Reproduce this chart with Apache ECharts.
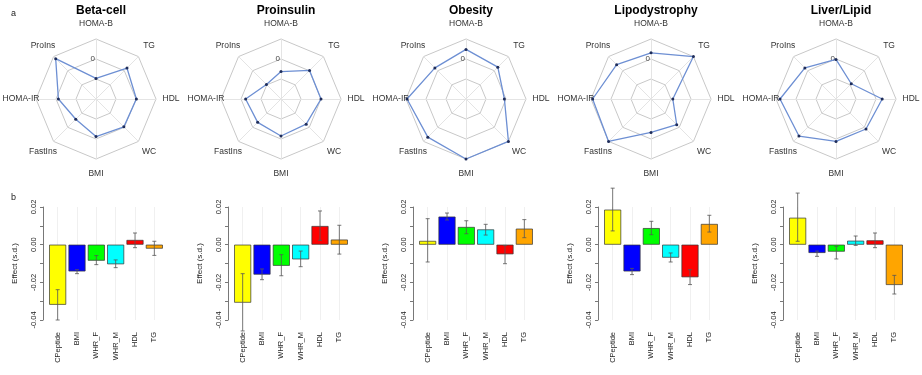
<!DOCTYPE html>
<html>
<head>
<meta charset="utf-8">
<script src="https://cdn.jsdelivr.net/npm/echarts@6/dist/echarts.min.js"></script>
<style>
html, body { margin: 0; padding: 0; background: #fff; }
#main { width: 922px; height: 375px; }
</style>
</head>
<body>
<div id="main"></div>
<script>
const panels = ['Beta-cell', 'Proinsulin', 'Obesity', 'Lipodystrophy', 'Liver/Lipid'];

// radar spokes, counter-clockwise from the top
const radarAxes = ['HOMA-B', 'ProIns', 'HOMA-IR', 'FastIns', 'BMI', 'WC', 'HDL', 'TG'];
const radarBeta = [-0.97, 0.85, -0.12, -0.57, -0.12, -0.03, 0.02, 0.19];
const radarProins = [-0.63, -0.97, -0.23, -0.35, -0.15, -0.22, 0.0, 0.02];
const radarObesity = [0.48, 0.2, 0.95, 0.7, 1.0, 1.0, -0.08, 0.25];
const radarLipo = [0.31, 0.43, 0.92, 1.0, -0.33, -0.18, -0.91, 1.0];
const radarLiver = [-0.02, 0.2, 0.8, 0.62, 0.12, 0.12, 0.31, -0.92];
const radarValues = [radarBeta, radarProins, radarObesity, radarLipo, radarLiver];

// bar panels
const barCats = ['CPeptide', 'BMI', 'WHR_F', 'WHR_M', 'HDL', 'TG'];
const effBeta = [-0.0319, -0.0142, -0.0085, -0.0104, 0.0025, -0.0021];
const loBeta  = [-0.0400, -0.0154, -0.0106, -0.0122, -0.0016, -0.0057];
const hiBeta  = [-0.0239, -0.0133, -0.0058, -0.0081, 0.0062, 0.0018];
const effProins = [-0.0308, -0.0159, -0.0112, -0.0078, 0.0099, 0.0027];
const loProins  = [-0.0458, -0.0186, -0.0165, -0.0117, 0.0023, -0.0050];
const hiProins  = [-0.0154, -0.0129, -0.0053, -0.0034, 0.0179, 0.0103];
const effObesity = [0.0020, 0.0149, 0.0094, 0.0081, -0.0051, 0.0085];
const loObesity  = [-0.0092, 0.0131, 0.0058, 0.0051, -0.0101, 0.0037];
const hiObesity  = [0.0138, 0.0168, 0.0127, 0.0108, -0.0004, 0.0133];
const effLipo = [0.0186, -0.0142, 0.0088, -0.0069, -0.0173, 0.0110];
const loLipo  = [0.0073, -0.0159, 0.0053, -0.0092, -0.0212, 0.0067];
const hiLipo  = [0.0300, -0.0126, 0.0124, -0.0044, -0.0133, 0.0156];
const effLiver = [0.0143, -0.0044, -0.0037, 0.0021, 0.0023, -0.0214];
const loLiver  = [0.0018, -0.0062, -0.0076, -0.0004, -0.0016, -0.0262];
const hiLiver  = [0.0274, -0.0034, -0.0009, 0.0046, 0.0062, -0.0163];
const effects = [effBeta, effProins, effObesity, effLipo, effLiver];
const lows = [loBeta, loProins, loObesity, loLipo, loLiver];
const highs = [hiBeta, hiProins, hiObesity, hiLipo, hiLiver];

const barColors = ['#ffff00', '#0000ff', '#00ff00', '#00ffff', '#ff0000', '#ffa500'];
const FONT = '"Liberation Sans", Arial, sans-serif';

const chart = echarts.init(document.getElementById('main'));

const titles = [], radars = [], grids = [], xAxes = [], yAxes = [], series = [];

panels.forEach((name, i) => {
    const off = 185 * i;
    const cx = off + 96;

    titles.push({
        text: name, left: cx, top: 0, textAlign: 'center',
        textStyle: {fontFamily: FONT, fontSize: 12, fontWeight: 'bold', color: '#000'}
    });

    radars.push({
        center: [cx, 99],
        radius: 60,
        shape: 'polygon',
        splitNumber: 3,
        indicator: radarAxes.map((a, k) => {
            const ind = {name: a, min: -2, max: 1};
            if (k === 0) {
                ind.axisLabel = {
                    show: true, fontSize: 8, color: '#444', fontFamily: FONT, margin: 1,
                    formatter: v => (Math.abs(v) < 1e-9 ? '0' : '')
                };
            }
            return ind;
        }),
        axisName: {color: '#333', fontSize: 8.5, fontFamily: FONT, align: 'center', verticalAlign: 'middle'},
        nameGap: 15,
        axisLine: {lineStyle: {color: '#e4e4e4', width: 1}},
        axisLabel: {show: false},
        splitLine: {lineStyle: {color: '#c8c8c8', width: 1}},
        splitArea: {show: false}
    });

    series.push({
        type: 'radar',
        radarIndex: i,
        symbol: 'circle',
        symbolSize: 3,
        itemStyle: {color: '#1f2d5a'},
        lineStyle: {color: '#6d8fd3', width: 1.3},
        data: [{value: radarValues[i]}],
        silent: true
    });

    grids.push({left: off + 48, top: 207, width: 116, height: 113});

    xAxes.push({
        type: 'category',
        gridIndex: i,
        data: barCats,
        axisLine: {show: false, onZero: false},
        axisTick: {show: false},
        splitLine: {show: true, alignWithLabel: true, lineStyle: {color: '#f0f0f0', width: 1}},
        axisLabel: {rotate: 90, fontSize: 7.5, color: '#222', margin: 12, fontFamily: FONT, interval: 0}
    });

    yAxes.push({
        type: 'value',
        gridIndex: i,
        min: -0.04, max: 0.02, interval: 0.01,
        offset: 5,
        name: 'Effect (s.d.)',
        nameLocation: 'middle',
        nameGap: 24,
        nameRotate: 90,
        nameTextStyle: {fontSize: 8, color: '#222', fontFamily: FONT},
        axisLine: {show: true, lineStyle: {color: '#555', width: 0.8}},
        axisTick: {show: true, length: 3, lineStyle: {color: '#555', width: 0.8}},
        splitLine: {show: false},
        axisLabel: {
            rotate: 90, fontSize: 7.5, color: '#222', margin: 5, fontFamily: FONT,
            formatter: v => (Math.round(v * 100) % 2 === 0 ? v.toFixed(2) : '')
        }
    });

    series.push({
        type: 'bar',
        xAxisIndex: i, yAxisIndex: i,
        barCategoryGap: '12%',
        data: effects[i].map((v, k) => ({
            value: v,
            itemStyle: {color: barColors[k], borderColor: '#333', borderWidth: 0.7}
        })),
        silent: true
    });

    series.push({
        type: 'custom',
        xAxisIndex: i, yAxisIndex: i,
        data: barCats.map((c, k) => [k, lows[i][k], highs[i][k]]),
        encode: {x: 0, y: [1, 2]},
        silent: true,
        z: 5,
        renderItem: (params, api) => {
            const x = api.value(0);
            const top = api.coord([x, api.value(2)]);
            const bot = api.coord([x, api.value(1)]);
            const hw = 2;
            const st = {stroke: '#555', lineWidth: 0.8};
            return {
                type: 'group',
                children: [
                    {type: 'line', shape: {x1: top[0], y1: top[1], x2: bot[0], y2: bot[1]}, style: st},
                    {type: 'line', shape: {x1: top[0] - hw, y1: top[1], x2: top[0] + hw, y2: top[1]}, style: st},
                    {type: 'line', shape: {x1: bot[0] - hw, y1: bot[1], x2: bot[0] + hw, y2: bot[1]}, style: st}
                ]
            };
        }
    });
});

titles.push({text: 'a', left: 6, top: 4, textStyle: {fontFamily: FONT, fontSize: 9, fontWeight: 'normal', color: '#222'}});
titles.push({text: 'b', left: 6, top: 188, textStyle: {fontFamily: FONT, fontSize: 9, fontWeight: 'normal', color: '#222'}});

chart.setOption({
    animation: false,
    title: titles,
    radar: radars,
    grid: grids,
    xAxis: xAxes,
    yAxis: yAxes,
    series: series
});
</script>
</body>
</html>
